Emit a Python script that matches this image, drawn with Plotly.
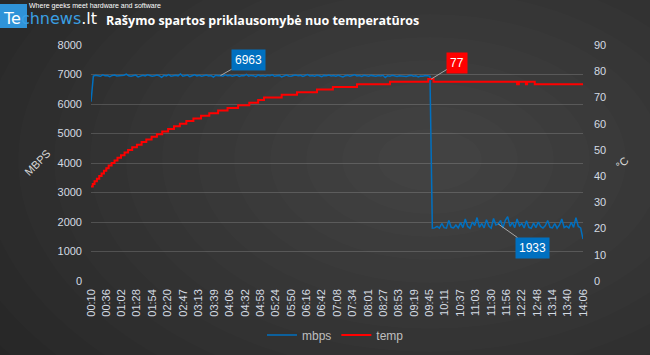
import plotly.graph_objects as go

# ---------------- data ----------------
tick_labels = ["00:10", "00:36", "01:02", "01:28", "01:54", "02:20", "02:47", "03:13", "03:39",
               "04:06", "04:32", "04:58", "05:24", "05:50", "06:16", "06:42", "07:08", "07:34",
               "08:01", "08:27", "08:53", "09:19", "09:45", "10:11", "10:37", "11:03", "11:30",
               "11:56", "12:22", "12:48", "13:14", "13:40", "14:06"]

# mbps sampled every 4 s starting at 00:10
mbps_start_s = 10
mbps_step_s = 4
mbps = [
    6080,
    6950, 6975, 6960, 6940, 6990, 6955, 6965, 6930, 6970, 6985, 6950, 6960,
    6945, 6975, 7010, 6955, 6940, 6965, 6980, 6920, 6960, 6975, 6950, 6990,
    6965, 6940, 6955, 6985, 6960, 6905, 6970, 6950, 6995, 6945, 6960, 6975,
    6955, 7020, 6940, 6965, 6980, 6930, 6960, 6990, 6950, 6975, 6945, 6960,
    6985, 6950, 6965, 6910, 6975, 6960, 6963, 6940, 6990, 6955, 6970, 6945,
    6960, 6980, 6935, 6965, 6955, 7000, 6945, 6970, 6960, 6925, 6985, 6950,
    6965, 6945, 6975, 6960, 6990, 6940, 6955, 6970, 6915, 6960, 6980, 6950,
    6940, 6965, 6985, 6955, 6970, 6935, 6960, 6995, 6950, 6965, 6945, 6975,
    6960, 6930, 6970, 6955, 6985, 6950, 6965, 6940, 6975, 6960, 6920, 6955,
    6970, 6945, 6960, 6990, 6950, 6965, 6935, 6975, 6955, 6945, 6970, 6960,
    6940, 6965, 6950, 6975, 6900, 6960, 6945, 6970, 6955, 6930, 6960, 6950,
    6965, 6935, 6955, 6970, 6945, 6960, 6920, 6950, 6940, 6965, 6955, 6940,
    1790, 1800, 1850, 1795, 1950, 1810, 1790, 2050, 1820, 1800, 1900, 1795, 1980,
    1810, 2100, 1850, 1790, 2000, 1880, 2150, 1820, 1950, 1800, 2080, 1860, 1790,
    2120, 1900, 1933, 2050, 1800, 2060, 2180, 1850, 1990, 1810, 2100, 1870, 1950,
    1800, 2040, 1820, 1790, 1960, 1810, 2000, 1850, 1795, 1880, 2050, 1820, 1800,
    1950, 1790, 1900, 2100, 1810, 1860, 1795, 1990, 1820, 2150, 1850, 1800, 1420,
]
mbps_peak_idx = 55     # labelled point 6963
mbps_low_idx = 173     # labelled point 1933

# temperature change points (seconds, °C)
temp_time = [10, 13, 16, 20, 24, 28, 32, 36, 40, 45, 50, 55, 61, 67, 73, 80, 88, 96, 104, 113,
             122, 131, 141, 151, 161, 172, 184, 197, 211, 226, 242, 260, 279, 294, 304, 334,
             360, 394, 421, 462, 518, 583, 592, 734, 737, 749, 751, 764, 846]
temp_c = [36, 37, 38, 39, 40, 41, 42, 43, 44, 45, 46, 47, 48, 49, 50, 51, 52, 53, 54, 55,
          56, 57, 58, 59, 60, 61, 62, 63, 64, 65, 66, 67, 68, 69, 70, 71,
          72, 73, 74, 75, 76, 77, 76, 75, 76, 75, 76, 75, 75]
temp_peak_idx = 41

# ---------------- derived ----------------
def to_sec(s):
    m, sec = s.split(":")
    return int(m) * 60 + int(sec)

tick_secs = [to_sec(s) for s in tick_labels]
mbps_time = [mbps_start_s + i * mbps_step_s for i in range(len(mbps))]

W, H = 650, 355
L, R, T, B = 91, 583, 45, 281

def px(x):
    return (x - L) / (R - L)

def py(y):
    return (B - y) / (B - T)

fig = go.Figure()
fig.add_trace(go.Scatter(x=mbps_time, y=mbps, name="mbps", mode="lines",
                         line=dict(color="#0070c0", width=1.5)))
fig.add_trace(go.Scatter(x=temp_time, y=temp_c, name="temp", mode="lines", yaxis="y2",
                         line=dict(color="#ff0000", width=2, shape="hv")))

# background radial glow
shapes = []
N = 14
cx, cy = 430, 160
for i in range(N):
    rx = 520 - i * 36
    ry = 330 - i * 23
    shapes.append(dict(type="circle", xref="paper", yref="paper", layer="below",
                       x0=px(cx - rx), x1=px(cx + rx), y0=py(cy + ry), y1=py(cy - ry),
                       fillcolor="rgba(255,255,255,0.012)", line=dict(width=0)))
# logo box
shapes.append(dict(type="rect", xref="paper", yref="paper", layer="above",
                   x0=px(0), x1=px(27), y0=py(28), y1=py(4),
                   fillcolor="#2f93d8", line=dict(width=0)))

tickfont = dict(family="Liberation Sans", size=11, color="#d4dbe3")
annotations = [
    # title
    dict(xref="paper", yref="paper", x=px(104), y=py(20), xanchor="left", yanchor="middle",
         text="<b>Rašymo spartos priklausomybė nuo temperatūros</b>", showarrow=False,
         font=dict(family="Open Sans", size=12.5, color="#ffffff")),
    # logo
    dict(xref="paper", yref="paper", x=px(1), y=py(18), xanchor="left", yanchor="middle",
         text="<span style='color:#ffffff'>Te</span><span style='color:#3a9fe2'>chnews</span>.lt",
         showarrow=False, font=dict(family="DejaVu Sans", size=16, color="#ffffff")),
    dict(xref="paper", yref="paper", x=px(27), y=py(6), xanchor="left", yanchor="middle",
         text="Where geeks meet hardware and software", showarrow=False,
         font=dict(family="Liberation Sans Narrow, Liberation Sans", size=7, color="#ffffff")),
    # axis titles
    dict(xref="paper", yref="paper", x=px(37), y=py(163), text="MBPS", textangle=-45,
         xanchor="center", yanchor="middle",
         showarrow=False, font=dict(family="Liberation Sans", size=11, color="#d9d9d9")),
    dict(xref="paper", yref="paper", x=px(622), y=py(163), text="°C", textangle=-45,
         xanchor="center", yanchor="middle",
         showarrow=False, font=dict(family="Liberation Sans", size=11, color="#d9d9d9")),
    # data labels
    dict(x=mbps_time[mbps_peak_idx], y=mbps[mbps_peak_idx], xref="x", yref="y",
         text=str(mbps[mbps_peak_idx]), showarrow=True, arrowhead=0, arrowwidth=1,
         arrowcolor="#a6a6a6", ax=28, ay=-16, bgcolor="#0070c0", borderpad=3,
         font=dict(family="Liberation Sans", size=12, color="#ffffff")),
    dict(x=mbps_time[mbps_low_idx], y=mbps[mbps_low_idx], xref="x", yref="y",
         text=str(mbps[mbps_low_idx]), showarrow=True, arrowhead=0, arrowwidth=1,
         arrowcolor="#a6a6a6", ax=34, ay=24, bgcolor="#0070c0", borderpad=3,
         font=dict(family="Liberation Sans", size=12, color="#ffffff")),
    dict(x=temp_time[temp_peak_idx] + 5, y=temp_c[temp_peak_idx], xref="x", yref="y2",
         text=str(temp_c[temp_peak_idx]), showarrow=True, arrowhead=0, arrowwidth=1,
         arrowcolor="#a6a6a6", ax=26, ay=-16, bgcolor="#ff0000", borderpad=3,
         font=dict(family="Liberation Sans", size=12, color="#ffffff")),
]

fig.update_layout(
    width=W, height=H,
    margin=dict(l=L, r=W - R, t=T, b=H - B, pad=0, autoexpand=False),
    paper_bgcolor="#262626", plot_bgcolor="rgba(0,0,0,0)",
    shapes=shapes, annotations=annotations,
    showlegend=True,
    legend=dict(orientation="h", x=px(262), y=py(335), xanchor="left", yanchor="middle",
                bgcolor="rgba(0,0,0,0)", font=dict(family="Liberation Sans", size=12, color="#bfbfbf"),
                itemwidth=30),
    xaxis=dict(range=[mbps_time[0], mbps_time[-1]], tickmode="array", tickvals=tick_secs,
               ticktext=tick_labels, tickangle=-90, showgrid=False, zeroline=False,
               showline=False, ticks="", tickfont=tickfont, ticklabelstandoff=5,
               automargin=False),
    yaxis=dict(range=[0, 8000], dtick=1000, showgrid=True, gridcolor="rgba(255,255,255,0.16)",
               gridwidth=1, zeroline=False, showline=False, tickfont=tickfont,
               ticklabelstandoff=8, automargin=False),
    yaxis2=dict(range=[0, 90], dtick=10, overlaying="y", side="right", showgrid=False,
                zeroline=False, showline=False, tickfont=tickfont, ticklabelstandoff=10,
                automargin=False),
)

fig.write_html("out.html", config={"displayModeBar": False},
               post_script="document.body.style.margin='0';document.body.style.background='#262626';")
